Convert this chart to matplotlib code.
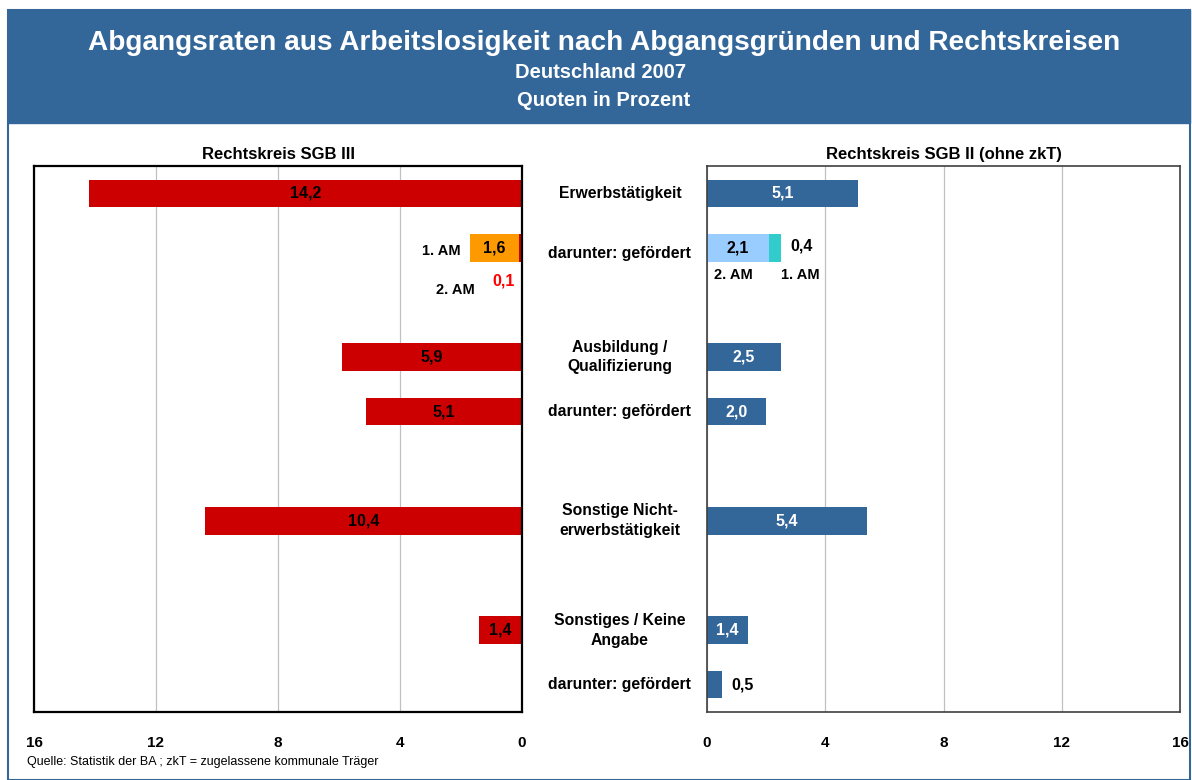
import numpy as np
import matplotlib
matplotlib.use("Agg")
import matplotlib.pyplot as plt
from matplotlib.patches import Rectangle
from matplotlib.transforms import blended_transform_factory

plt.rcParams['font.family'] = ['Liberation Sans', 'DejaVu Sans']

# data
categories = ["Erwerbstätigkeit", "darunter: gefördert", "Ausbildung /\nQualifizierung",
              "darunter: gefördert", "Sonstige Nicht-\nerwerbstätigkeit",
              "Sonstiges / Keine\nAngabe", "darunter: gefördert"]
rows = [0, 1, 3, 4, 6, 8, 9]
sgb3 = [14.2, np.nan, 5.9, 5.1, 10.4, 1.4, np.nan]
sgb2 = [5.1, np.nan, 2.5, 2.0, 5.4, 1.4, 0.5]
# gefördert Erwerbstätigkeit split by labour market
sgb3_am1, sgb3_am2 = 1.6, 0.1
sgb2_am2, sgb2_am1 = 2.1, 0.4
ticks = [0, 4, 8, 12, 16]

def fmt(v):
    return f"{v:.1f}".replace(".", ",")

blue = '#336699'
red = '#CC0000'
orange = '#FF9900'
lightblue = '#99CCFF'
teal = '#33CCCC'

fig = plt.figure(figsize=(11.92, 7.8), dpi=100)

# header banner and frame
fig.patches.append(Rectangle((8/1192, 0), 1182/1192, 770/780, transform=fig.transFigure,
                             fill=False, edgecolor=blue, lw=1.5))
fig.patches.append(Rectangle((8/1192, 1-123/780), 1182/1192, 113/780, transform=fig.transFigure,
                             facecolor=blue, edgecolor=blue))
fig.text(604/1192, 1-43/780, "Abgangsraten aus Arbeitslosigkeit nach Abgangsgründen und Rechtskreisen",
         ha='center', va='center', color='white', fontsize=20.2, fontweight='bold')
fig.text(601/1192, 1-73/780, "Deutschland 2007", ha='center', va='center', color='white',
         fontsize=14.5, fontweight='bold')
fig.text(604/1192, 1-100/780, "Quoten in Prozent", ha='center', va='center', color='white',
         fontsize=14.5, fontweight='bold')

axl = fig.add_axes([34/1192, 1-712/780, 488/1192, 546/780])
axr = fig.add_axes([707/1192, 1-712/780, 473/1192, 546/780])

h = 0.5
vs = 11.5
# left panel: SGB III
axl.barh(rows, sgb3, height=h, color=red)
axl.barh(1, sgb3_am2, height=h, color=red)
axl.barh(1, sgb3_am1, left=sgb3_am2, height=h, color=orange)
for r, v in zip(rows, sgb3):
    if not np.isnan(v):
        axl.text(v/2, r, fmt(v), ha='center', va='center', fontsize=vs, fontweight='bold')
axl.text(sgb3_am2 + sgb3_am1/2, 1, fmt(sgb3_am1), ha='center', va='center', fontsize=vs, fontweight='bold')
axl.text(2.66, 1.06, "1. AM", ha='center', va='center', fontsize=10.5, fontweight='bold')
axl.text(2.2, 1.77, "2. AM", ha='center', va='center', fontsize=10.5, fontweight='bold')
axl.text(0.62, 1.6, fmt(sgb3_am2), ha='center', va='center', fontsize=vs, fontweight='bold', color='red')
axl.set_xlim(16, 0)
axl.set_title("Rechtskreis SGB III", fontsize=12, fontweight='bold', pad=5)
for s in axl.spines.values():
    s.set_linewidth(1.6)
    s.set_color('black')

# right panel: SGB II
axr.barh(rows, sgb2, height=h, color=blue)
axr.barh(1, sgb2_am2, height=h, color=lightblue)
axr.barh(1, sgb2_am1, left=sgb2_am2, height=h, color=teal)
for r, v in zip(rows, sgb2):
    if np.isnan(v):
        continue
    if v < 1:
        axr.text(v + 0.7, r, fmt(v), ha='center', va='center', fontsize=vs, fontweight='bold')
    else:
        axr.text(v/2, r, fmt(v), ha='center', va='center', fontsize=vs, fontweight='bold', color='white')
axr.text(sgb2_am2/2, 1, fmt(sgb2_am2), ha='center', va='center', fontsize=vs, fontweight='bold')
axr.text(3.2, 0.97, fmt(sgb2_am1), ha='center', va='center', fontsize=vs, fontweight='bold')
axr.text(0.9, 1.5, "2. AM", ha='center', va='center', fontsize=10.5, fontweight='bold')
axr.text(3.15, 1.5, "1. AM", ha='center', va='center', fontsize=10.5, fontweight='bold')
axr.set_xlim(0, 16)
axr.set_title("Rechtskreis SGB II (ohne zkT)", fontsize=12, fontweight='bold', pad=5)
for s in axr.spines.values():
    s.set_linewidth(1.2)
    s.set_color('#404040')

for ax in (axl, axr):
    ax.set_ylim(9.5, -0.5)
    ax.set_yticks([])
    ax.set_xticks(ticks)
    ax.set_xticklabels([str(t) for t in ticks], fontweight='bold', fontsize=11)
    ax.tick_params(axis='x', length=0, pad=17)
    ax.grid(axis='x', color='#C0C0C0', lw=0.9)
    ax.set_axisbelow(True)

# category labels between the panels
tr = blended_transform_factory(fig.transFigure, axr.transData)
for r, c in zip(rows, categories):
    fig.text(620/1192, r + (0.1 if r == 1 else 0), c, transform=tr, ha='center', va='center',
             fontsize=11.3, fontweight='bold', linespacing=1.4)

fig.text(27/1192, 1-762/780, "Quelle: Statistik der BA ; zkT = zugelassene kommunale Träger",
         ha='left', va='center', fontsize=9)

fig.savefig("out.png", dpi=100)
